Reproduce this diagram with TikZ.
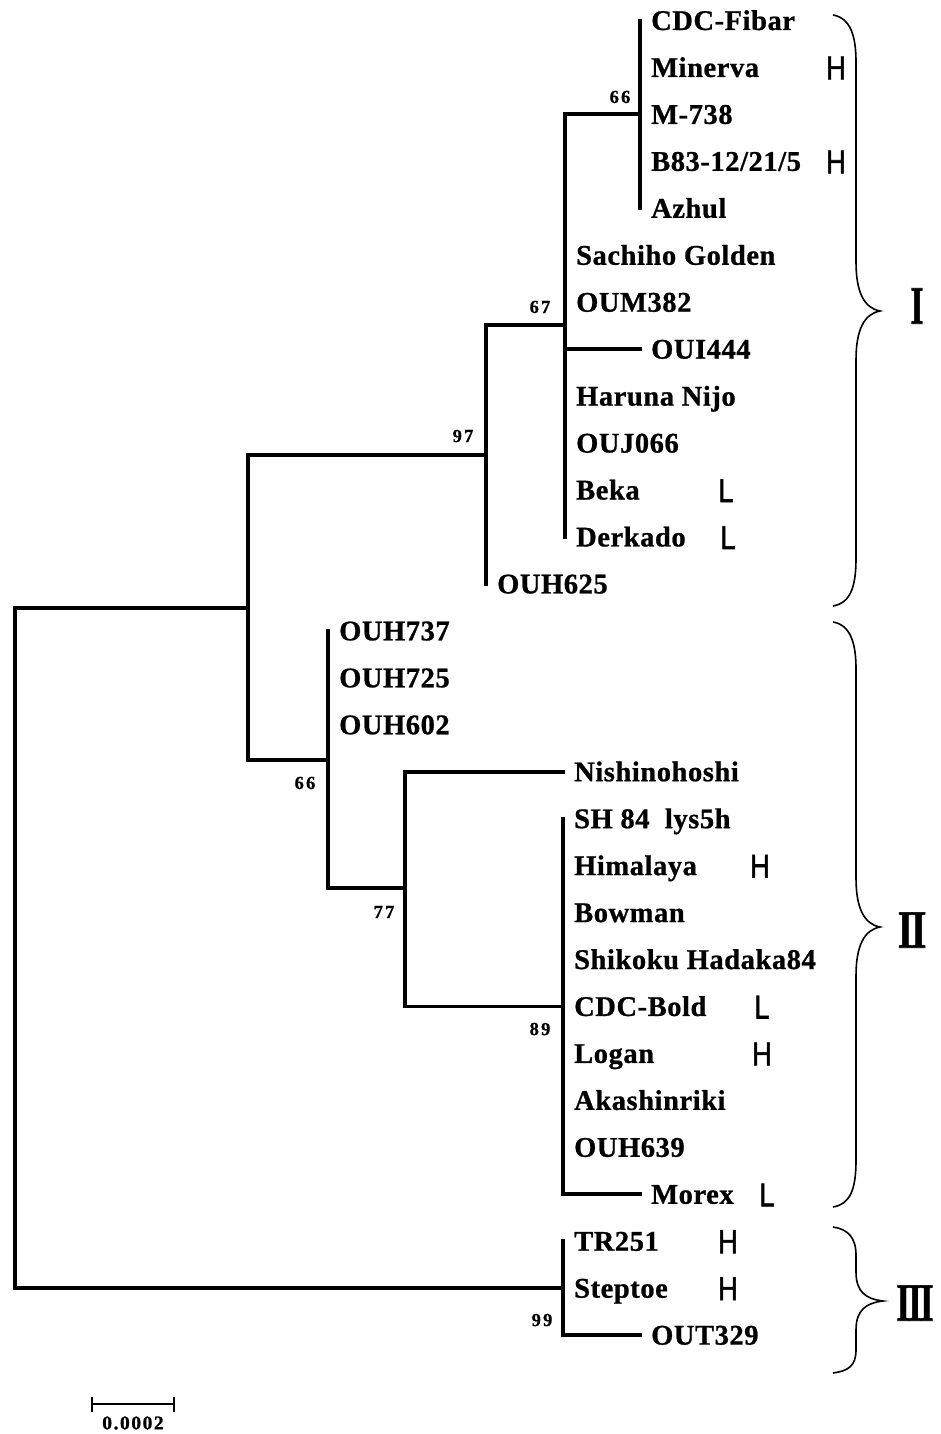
\documentclass[tikz,border=0pt]{standalone}
\usepackage{fontspec}
\setmainfont{Liberation Serif}
\newfontfamily\labfont[LetterSpace=2,FakeBold=0.8]{Liberation Serif}
\newfontfamily\bsfont[LetterSpace=12,FakeBold=0.8]{Liberation Serif}
\newfontfamily\sbfont[LetterSpace=8,FakeBold=0.8]{Liberation Serif}
\newfontfamily\mkfont[FakeBold=1.8]{Liberation Sans}
\newfontfamily\rnfont[LetterSpace=-6,FakeBold=1.2]{Liberation Serif}
\tikzset{
  br/.style={line width=3.8pt, line cap=rect},
  lab/.style={font=\labfont\bfseries\fontsize{28.5}{30}\selectfont, inner sep=0pt, anchor=base west},
  bs/.style={font=\bsfont\bfseries\fontsize{18.5}{20}\selectfont, inner sep=0pt},
  mk/.style={font=\mkfont\fontsize{33}{35}\selectfont, inner sep=0pt, anchor=base, xscale=0.82},
  rn/.style={font=\rnfont\bfseries\fontsize{54}{56}\selectfont, inner sep=0pt},
  brc/.style={line width=1.6pt},
}
\begin{document}
\begin{tikzpicture}[x=1pt,y=-1pt]
\useasboundingbox (0,0) rectangle (940,1434);
% tips and labels
\foreach \i/\x/\t in {0/640/CDC-Fibar, 1/640/Minerva, 2/640/M-738, 4/640/Azhul,
  5/565/Sachiho Golden, 6/565/OUM382, 7/640/OUI444, 8/565/Haruna Nijo,
  9/565/OUJ066, 10/565/Beka, 11/565/Derkado, 12/486/OUH625,
  13/328/OUH737, 14/328/OUH725, 15/328/OUH602, 16/563/Nishinohoshi,
  18/563/Himalaya, 19/563/Bowman, 20/563/Shikoku Hadaka84,
  21/563/CDC-Bold, 22/563/Logan, 23/563/Akashinriki, 24/563/OUH639,
  25/640/Morex, 26/563/TR251, 27/563/Steptoe, 28/640/OUT329}{
  \coordinate (p\i) at (\x,{20.5+46.95*\i});
  \node[lab] (t\i) at ([xshift=11pt,yshift=-9.5pt]p\i) {\t};
}
\coordinate (p3) at (640,{20.5+46.95*3});
\node[lab] (t3) at ([xshift=11pt,yshift=-9.5pt]p3) {B83-12/21/5};
\coordinate (p17) at (563,{20.5+46.95*17});
\node[lab] (t17) at ([xshift=11pt,yshift=-9.5pt]p17) {SH 84\ \ lys5h};
% internal nodes
\coordinate (nR) at (15,949);
\coordinate (nA) at (248,608);
\coordinate (nB) at (486,455);
\coordinate (nC) at (565,325);
\coordinate (nD) at (640,{20.5+46.95*2});
\coordinate (nE) at (328,760);
\coordinate (nF) at (405,888);
\coordinate (nG) at (563,{20.5+46.95*21});
\coordinate (nH) at (563,{20.5+46.95*27});
% branches
\draw[br] (nA) -| (nR) |- (nH);
\draw[br] (nB) -| (nA) |- (nE);
\draw[br] (nC) -| (nB) |- (p12);
\draw[br] (nD) -| (nC) |- (p11);
\draw[br] (nC |- p7) -- (p7);
\draw[br] (p0) -- (p4);
\draw[br] (p13) |- (nF);
\draw[br] (p16) -| (nF) |- (nG);
\draw[br] (p17) |- (p25);
\draw[br] (p26) |- (p28);
% bootstrap values
\node[bs] (b1) at (620,97) {66};
\node[bs] (b2) at (540,307) {67};
\node[bs] (b3) at (463,436) {97};
\node[bs] (b4) at (305,783) {66};
\node[bs] (b5) at (384,912) {77};
\node[bs] (b6) at (540,1029) {89};
\node[bs] (b7) at (542,1320) {99};
% H / L markers
\node[mk] (m1) at (836,{20.5+46.95*1+12}) {H};
\node[mk] (m3) at (836,{20.5+46.95*3+12}) {H};
\node[mk] (m10) at (726,{20.5+46.95*10+12}) {L};
\node[mk] (m11) at (728,{20.5+46.95*11+12}) {L};
\node[mk] (m18) at (760,{20.5+46.95*18+12}) {H};
\node[mk] (m21) at (762,{20.5+46.95*21+12}) {L};
\node[mk] (m22) at (762,{20.5+46.95*22+12}) {H};
\node[mk] (m25) at (767,{20.5+46.95*25+12}) {L};
\node[mk] (m26) at (728,{20.5+46.95*26+12}) {H};
\node[mk] (m27) at (728,{20.5+46.95*27+12}) {H};
% braces
\draw[brc] (833,15) .. controls (850,18) and (856,35) .. (856,62) -- (856,262)
  .. controls (856,292) and (864,308) .. (880,311)
  .. controls (864,314) and (856,330) .. (856,360) -- (856,558)
  .. controls (856,588) and (850,603) .. (833,606);
\draw[brc] (833,622) .. controls (850,625) and (856,642) .. (856,669) -- (856,878)
  .. controls (856,908) and (864,924) .. (880,927)
  .. controls (864,930) and (856,946) .. (856,976) -- (856,1160)
  .. controls (856,1190) and (850,1204) .. (833,1207);
\draw[brc] (833,1227) .. controls (848,1229) and (856,1238) .. (856,1255) -- (856,1272)
  .. controls (856,1292) and (866,1299) .. (883,1301)
  .. controls (866,1303) and (856,1310) .. (856,1330) -- (856,1350)
  .. controls (856,1366) and (848,1371) .. (833,1373);
% clade numerals
\node[rn, xscale=0.63] (c1) at (917,306) {I};
\node[rn, xscale=0.74] (c2) at (912,930) {II};
\node[rn, xscale=0.66] (c3) at (915,1303) {III};
% scale bar
\coordinate (s1) at (92,1404);
\coordinate (s2) at (174,1404);
\draw[line width=2.6pt] (s1) -- (s2);
\draw[line width=2.6pt] ([yshift=7.5pt]s1) -- ([yshift=-7.5pt]s1);
\draw[line width=2.6pt] ([yshift=7.5pt]s2) -- ([yshift=-7.5pt]s2);
\node[inner sep=0pt, font=\sbfont\bfseries\fontsize{19.5}{21}\selectfont] (sl) at (133,1423) {0.0002};
\end{tikzpicture}
\end{document}
